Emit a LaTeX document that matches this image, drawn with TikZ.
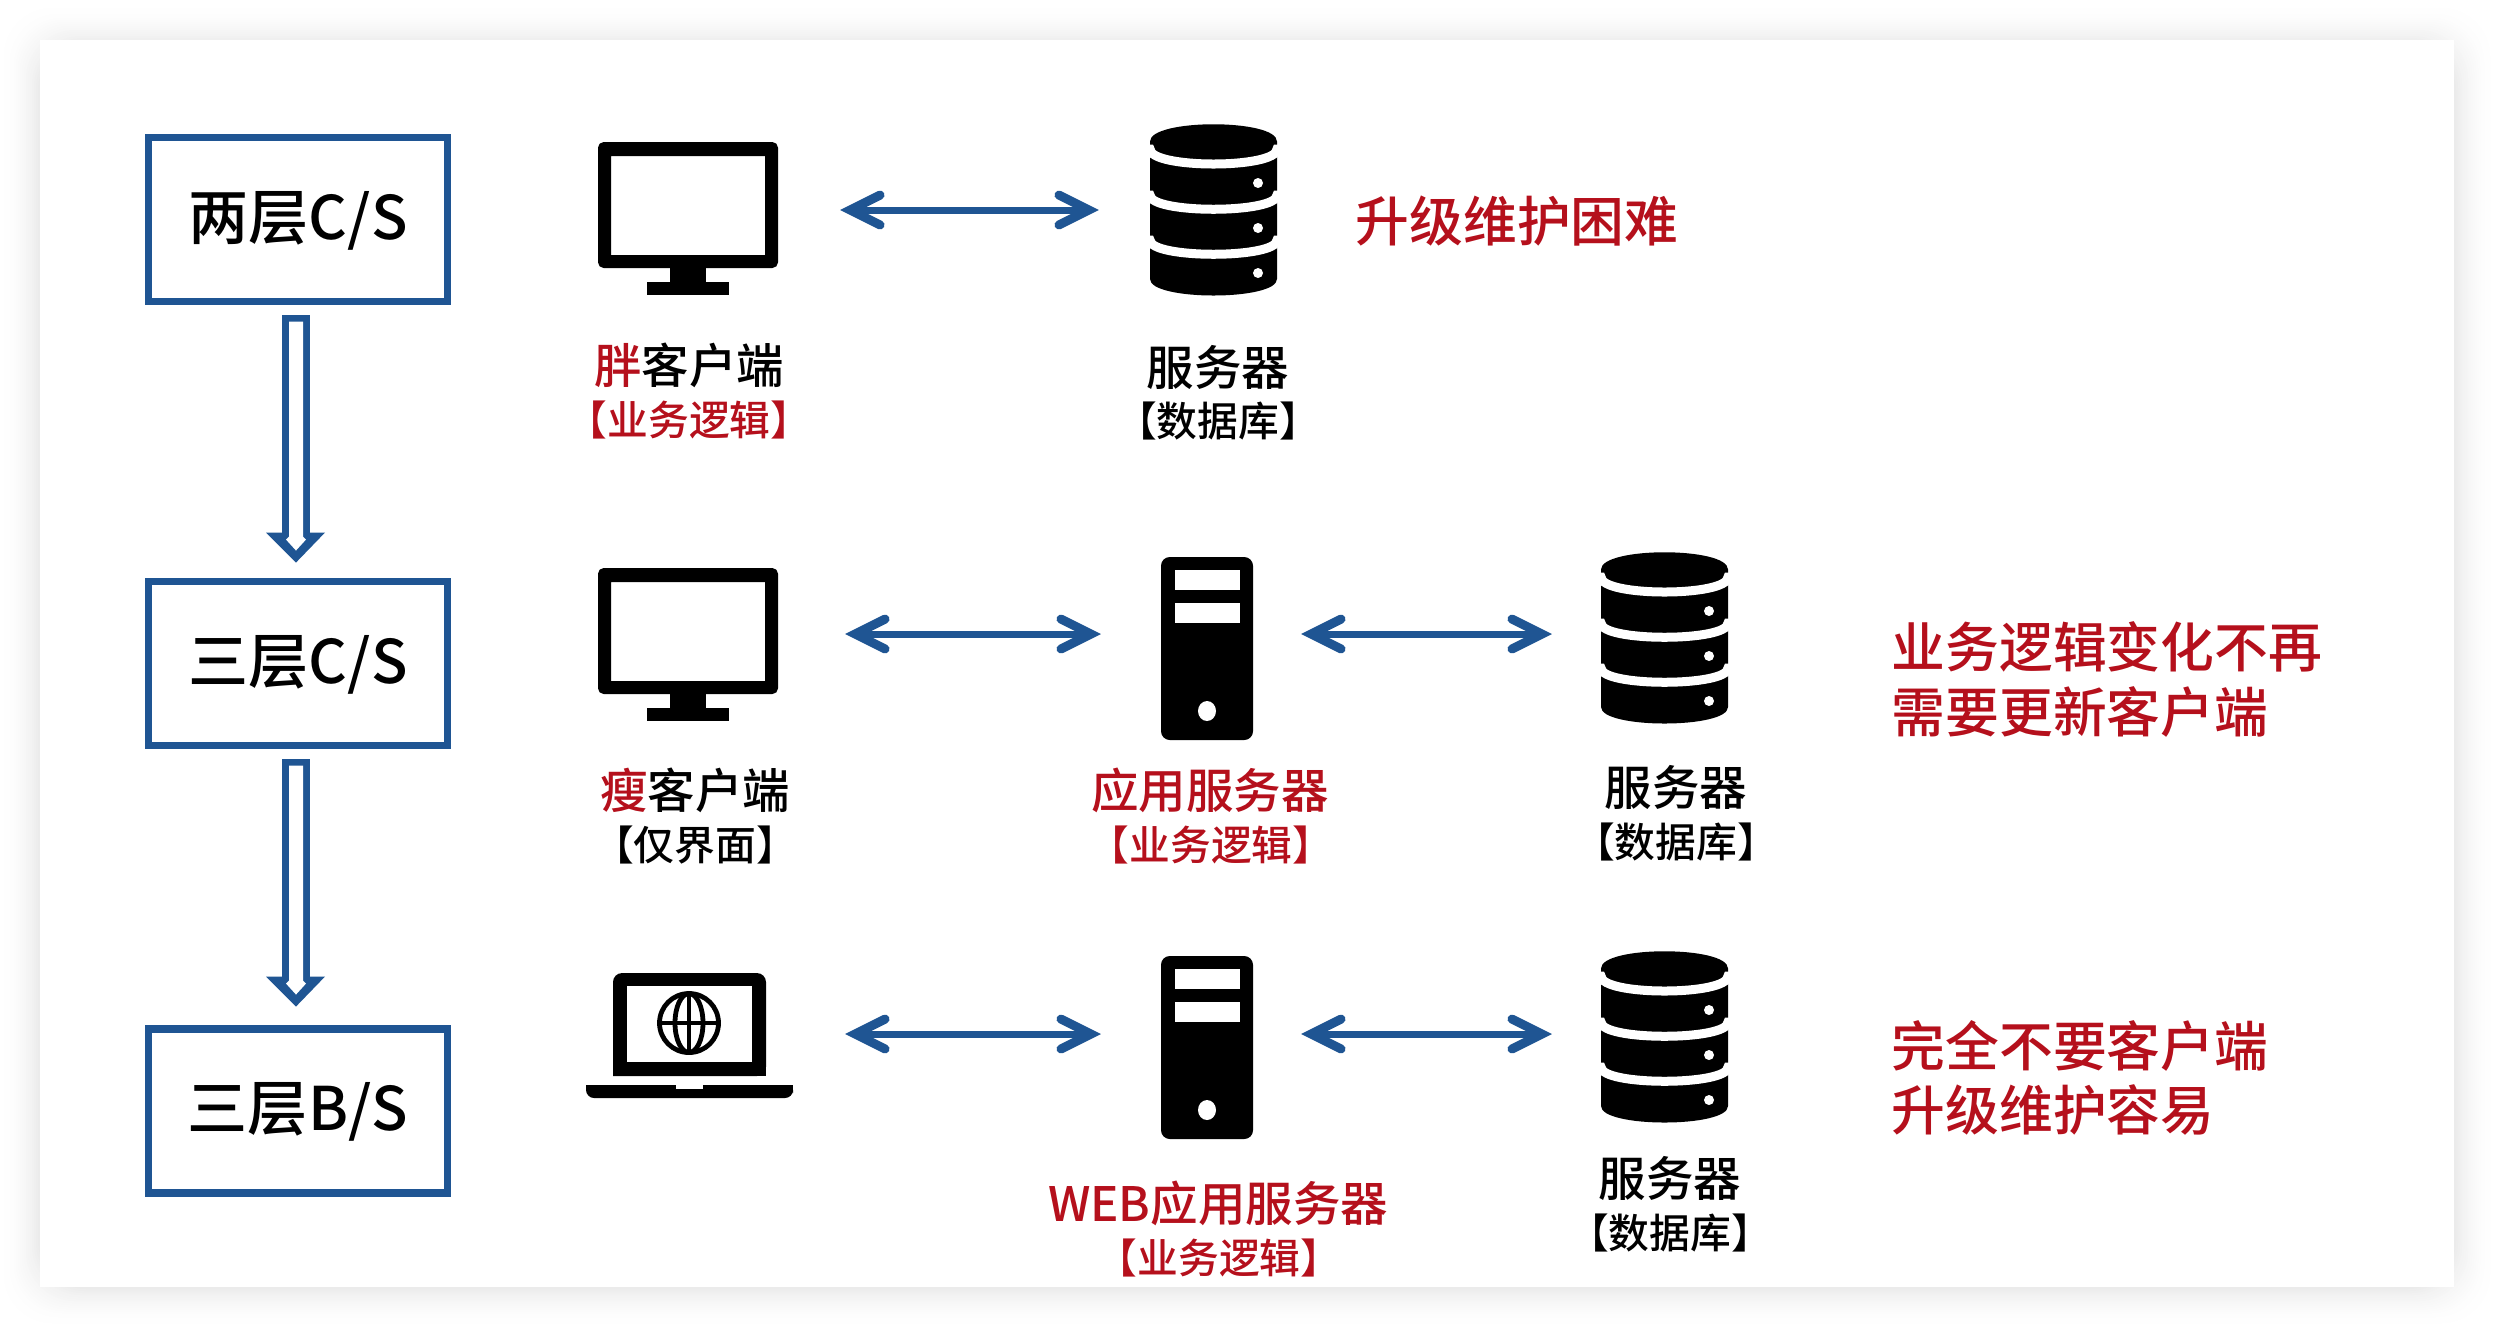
\documentclass[tikz,border=0pt]{standalone}
\usepackage{fontspec}
\setmainfont{Noto Sans CJK SC}[UprightFont=* Medium]
\usetikzlibrary{arrows.meta,calc}
\definecolor{bl}{HTML}{1F5593}
\definecolor{rd}{HTML}{B5101C}
\newcommand{\fsz}[1]{\fontsize{#1}{#1}\selectfont}
\tikzset{
 x=0.01cm,y=-0.01cm,
 stagebox/.style={draw=bl,line width=0.075cm,fill=white,minimum width=2.99cm,minimum height=1.64cm,inner sep=0,outer sep=0,text depth=0pt},
 stagetext/.style={inner sep=0,font=\fsz{17.1pt},text=black},
 anchorbox/.style={inner sep=0,outer sep=0,minimum height=0.1cm},
 biarrow/.style={draw=bl,line width=0.07cm,{Straight Barb[length=8.5pt,width=8.5pt,line width=0.09cm,line cap=round,line join=miter]}-{Straight Barb[length=8.5pt,width=8.5pt,line width=0.09cm,line cap=round,line join=miter]}},
 lab/.style={inner sep=0,font=\fsz{13.5pt},text=black},
 sub/.style={inner sep=0,font=\fsz{11.6pt},text=black},
 note/.style={inner sep=0,font=\fsz{15.3pt},text=rd,anchor=west},
 pics/monitor/.style={code={
   \fill[black,rounded corners=1.6pt,even odd rule] (0,0) rectangle (180,126) [sharp corners] (13,14) rectangle (167,113);
   \fill (72,126) rectangle (108,140);
   \fill (49,140) rectangle (131,153);
 }},
 pics/dbicon/.style={code={
   \fill (0,17.5) -- (0,155) .. controls (0,177) and (127,177) .. (127,155) -- (127,17.5) .. controls (127,-5.5) and (0,-5.5) .. (0,17.5) -- cycle;
   \draw[white,line width=0.09cm] (-4,25) -- (0,25) .. controls (0,45) and (127,45) .. (127,25) -- (131,25);
   \draw[white,line width=0.09cm] (-4,71) -- (0,71) .. controls (0,90) and (127,90) .. (127,71) -- (131,71);
   \draw[white,line width=0.09cm] (-4,116) -- (0,116) .. controls (0,135) and (127,135) .. (127,116) -- (131,116);
   \fill[white] (108,59) circle[radius=5];
   \fill[white] (108,104) circle[radius=5];
   \fill[white] (108,149) circle[radius=5];
 }},
 pics/tower/.style={code={
   \fill[black,rounded corners=2.5pt] (0,0) rectangle (92,183);
   \fill[white] (14,13) rectangle (79,33);
   \fill[white] (14,46) rectangle (79,66);
   \fill[white] (46,154) ellipse[x radius=9,y radius=10];
 }},
 pics/laptop/.style={code={
   \fill[black,rounded corners=2.6pt] (27,103) -- (27,0) -- (180,0) -- (180,103) [sharp corners] -- cycle;
   \fill[black] (27,90) rectangle (180,103);
   \fill[white] (41,13) rectangle (166,89);
   \fill[black,rounded corners=2.3pt] (0,112) -- (0,125) -- (207,125) -- (207,112) [sharp corners] -- cycle;
   \fill[black] (0,112) rectangle (207,118);
   \fill[white] (90,111) rectangle (117,116);
   \begin{scope}[shift={(103,50)},line width=0.048cm]
     \draw (0,0) circle[radius=29.5];
     \draw (0,0) ellipse[x radius=14,y radius=29.5];
     \draw (0,-29.5) -- (0,29.5);
     \draw (-29.5,0) -- (29.5,0);
   \end{scope}
 }},
 pics/hollowarrow/.style={code={
   \fill[bl] (-14,0) rectangle (14,230);
   \fill[bl] (-30,218) -- (29,218) -- (0,248) -- cycle;
   \fill[white] (-7,7) -- (7,7) -- (7,222) -- (10,225) -- (0,236) -- (-10,225) -- (-7,222) -- cycle;
 }}
}
\begin{document}
\begin{tikzpicture}
\useasboundingbox (0,0) rectangle (2494,1326);
\fill[white] (0,0) rectangle (2494,1326);
\foreach \i in {40,38,...,2}{
  \pgfmathsetmacro{\c}{8.5*(1-\i/42)*(1-\i/42)}
  \fill[black!\c!white,rounded corners=14pt] (40-\i,40-\i+4) rectangle (2454+\i,1287+\i);
}
\fill[white] (40,40) rectangle (2454,1287);

% left column
\node[stagebox] (b1) at (298,219.5) {};
\node[stagebox] (b2) at (298,663.5) {};
\node[stagebox] (b3) at (298,1111) {};
\node[stagetext] (s1) at (298,221) {两层C/S};
\node[stagetext] (s2) at (298,665) {三层C/S};
\node[stagetext] (s3) at (298,1112) {三层B/S};
\path ($(b1.south)+(-2,13)$) pic {hollowarrow};
\path ($(b2.south)+(-2,13)$) pic {hollowarrow};

% icons
\path (598,142) pic {monitor};
\path (598,568) pic {monitor};
\path (586,973) pic {laptop};
\path (1150,124) pic {dbicon};
\path (1601,552) pic {dbicon};
\path (1601,951) pic {dbicon};
\path (1161,557) pic {tower};
\path (1161,956) pic {tower};

% connector anchors
\node[anchorbox,minimum width=3.04cm] (mon1) at (688,210) {};
\node[anchorbox,minimum width=2.28cm] (db1) at (1213,210) {};
\node[anchorbox,minimum width=3.14cm] (mon2) at (688,634) {};
\node[anchorbox,minimum width=2cm] (srv2) at (1201,634) {};
\node[anchorbox,minimum width=2.26cm] (db2) at (1665,634) {};
\node[anchorbox,minimum width=3.14cm] (lap3) at (688,1034) {};
\node[anchorbox,minimum width=2cm] (srv3) at (1201,1034) {};
\node[anchorbox,minimum width=2.26cm] (db3) at (1665,1034) {};
\draw[biarrow] (mon1) -- (db1);
\draw[biarrow] (mon2) -- (srv2);
\draw[biarrow] (srv2) -- (db2);
\draw[biarrow] (lap3) -- (srv3);
\draw[biarrow] (srv3) -- (db3);

% labels
\node[lab] (t1) at (689,365) {\textcolor{rd}{胖}客户端};
\node[sub,text=rd] (t2) at (689,420) {【业务逻辑】};
\node[lab] (t3) at (1218,367) {服务器};
\node[sub] (t4) at (1218,421) {【数据库】};
\node[lab] (t5) at (695,790) {\textcolor{rd}{瘦}客户端};
\node[sub] (t6) at (695,845) {【仅界面】};
\node[lab,text=rd] (t7) at (1210,790) {应用服务器};
\node[sub,text=rd] (t8) at (1211,845) {【业务逻辑】};
\node[lab] (t9) at (1676,787) {服务器};
\node[sub] (t10) at (1676,842) {【数据库】};
\node[lab,text=rd] (t11) at (1218,1203) {WEB应用服务器};
\node[sub,text=rd] (t12) at (1219,1258) {【业务逻辑】};
\node[lab] (t13) at (1670,1178) {服务器};
\node[sub] (t14) at (1670,1233) {【数据库】};

\node[note] (n1) at (1355,221) {升级维护困难};
\node[note] (n2) at (1891,647) {业务逻辑变化不再};
\node[note] (n3) at (1891,712) {需要更新客户端};
\node[note] (n4) at (1891,1046) {完全不要客户端};
\node[note] (n5) at (1891,1110) {升级维护容易};
\end{tikzpicture}
\end{document}
